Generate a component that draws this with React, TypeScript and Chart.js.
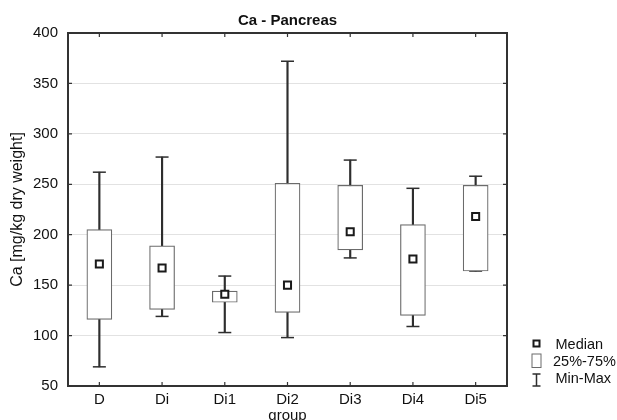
import React, { useEffect, useRef } from "react";
import { Chart, registerables } from "chart.js";

Chart.register(...registerables);

const groups = ["D", "Di", "Di1", "Di2", "Di3", "Di4", "Di5"];
const minValues = [69, 119, 103, 98, 177, 109, 164];
const q1Values = [116, 126, 133, 123, 185, 120, 164];
const medianValues = [171, 167, 141, 150, 203, 176, 218];
const q3Values = [205, 189, 144, 251, 249, 210, 249];
const maxValues = [262, 277, 159, 372, 274, 246, 258];
const yMin = 50;
const yMax = 400;
const yStep = 50;

const FONT = '"Liberation Sans", Arial, sans-serif';
const TEXT = "#111111";
const DARK = "#2e2e2e";
const BOXLINE = "#6b6b6b";

const framePlugin = {
  id: "frame",
  afterDatasetsDraw(chart: any) {
    const { ctx, chartArea, scales } = chart;
    const { left, right, top, bottom } = chartArea;
    ctx.save();
    ctx.strokeStyle = "#333333";
    ctx.lineWidth = 2;
    ctx.strokeRect(left, top, right - left, bottom - top);
    ctx.lineWidth = 1.2;
    const tl = 4;
    scales.y.ticks.forEach((t: any) => {
      const y = scales.y.getPixelForValue(t.value);
      ctx.beginPath();
      ctx.moveTo(left, y);
      ctx.lineTo(left + tl, y);
      ctx.moveTo(right, y);
      ctx.lineTo(right - tl, y);
      ctx.stroke();
    });
    groups.forEach((_, i) => {
      const x = scales.x.getPixelForValue(i);
      ctx.beginPath();
      ctx.moveTo(x, top);
      ctx.lineTo(x, top + tl);
      ctx.moveTo(x, bottom);
      ctx.lineTo(x, bottom - tl);
      ctx.stroke();
    });
    ctx.restore();
  },
};

const legendPlugin = {
  id: "boxLegend",
  afterDraw(chart: any) {
    const { ctx, chartArea } = chart;
    const bx = chartArea.right + 29.5;
    const tx = chartArea.right + 48.5;
    const base = chartArea.bottom;
    ctx.save();
    ctx.font = `14.5px ${FONT}`;
    ctx.textBaseline = "middle";
    ctx.textAlign = "left";
    // Median
    ctx.fillStyle = "#ffffff";
    ctx.fillRect(bx - 3, base - 45.5, 6, 6);
    ctx.strokeStyle = "#1a1a1a";
    ctx.lineWidth = 2;
    ctx.strokeRect(bx - 3, base - 45.5, 6, 6);
    ctx.fillStyle = TEXT;
    ctx.fillText("Median", tx, base - 41);
    // Box
    ctx.strokeStyle = BOXLINE;
    ctx.lineWidth = 1;
    ctx.strokeRect(bx - 4.5, base - 32, 9, 13.5);
    ctx.fillText("25%-75%", tx - 2.5, base - 24.5);
    // Min-Max
    ctx.strokeStyle = DARK;
    ctx.lineWidth = 1.5;
    ctx.beginPath();
    ctx.moveTo(bx, base - 12);
    ctx.lineTo(bx, base);
    ctx.moveTo(bx - 4, base - 12);
    ctx.lineTo(bx + 4, base - 12);
    ctx.moveTo(bx - 4, base);
    ctx.lineTo(bx + 4, base);
    ctx.stroke();
    ctx.fillText("Min-Max", tx, base - 7);
    ctx.restore();
  },
};

export default function App() {
  const ref = useRef<HTMLCanvasElement | null>(null);
  useEffect(() => {
    if (!ref.current) return;
    const chart = new Chart(ref.current, {
      type: "bar",
      data: {
        labels: groups,
        datasets: [
          {
            type: "line",
            label: "Median",
            data: medianValues,
            showLine: false,
            pointStyle: "rect",
            pointRadius: 5,
            pointBorderWidth: 2,
            pointBackgroundColor: "#ffffff",
            pointBorderColor: "#1a1a1a",
            order: 0,
          } as any,
          {
            type: "bar",
            label: "25%-75%",
            data: groups.map((_, i) => [q1Values[i], q3Values[i]]),
            backgroundColor: "#ffffff",
            borderColor: BOXLINE,
            borderWidth: 1.2,
            borderSkipped: false,
            barThickness: 25,
            grouped: false,
            order: 1,
          } as any,
          {
            type: "line",
            label: "Max",
            data: maxValues,
            showLine: false,
            pointStyle: "line",
            pointRadius: 6.5,
            pointBorderWidth: 1.5,
            pointBorderColor: DARK,
            order: 2,
          } as any,
          {
            type: "line",
            label: "Min",
            data: minValues,
            showLine: false,
            pointStyle: "line",
            pointRadius: 6.5,
            pointBorderWidth: 1.5,
            pointBorderColor: DARK,
            order: 2,
          } as any,
          {
            type: "bar",
            label: "Min-Max",
            data: groups.map((_, i) => [minValues[i], maxValues[i]]),
            backgroundColor: DARK,
            barThickness: 1.5,
            grouped: false,
            order: 3,
          } as any,
        ],
      },
      options: {
        responsive: false,
        animation: false,
        devicePixelRatio: 1,
        layout: { padding: { left: 0, right: 110, top: 0, bottom: 0 } },
        plugins: {
          legend: { display: false },
          tooltip: { enabled: false },
          title: {
            display: true,
            text: "Ca - Pancreas",
            fullSize: false,
            color: TEXT,
            font: { family: FONT, size: 15, weight: "bold" },
            padding: { top: 12, bottom: 3 },
          },
        },
        scales: {
          x: {
            offset: true,
            grid: { display: false, drawTicks: false },
            border: { display: false },
            ticks: {
              color: TEXT,
              font: { family: FONT, size: 15 },
              padding: 5,
              maxRotation: 0,
              autoSkip: false,
            },
            title: {
              display: true,
              text: "group",
              color: TEXT,
              font: { family: FONT, size: 15, lineHeight: 0.6 },
              padding: 0,
            },
            afterFit: (s: any) => {
              s.height = 34;
            },
          },
          y: {
            min: yMin,
            max: yMax,
            grid: { color: "#e2e2e2", lineWidth: 1, drawTicks: false },
            border: { display: false },
            ticks: {
              stepSize: yStep,
              padding: 10,
              color: TEXT,
              font: { family: FONT, size: 15 },
            },
            title: {
              display: true,
              text: "Ca [mg/kg dry weight]",
              color: TEXT,
              font: { family: FONT, size: 16 },
              padding: { top: 8, bottom: 0 },
            },
            afterFit: (s: any) => {
              s.width = 68;
            },
          },
        },
      } as any,
      plugins: [framePlugin, legendPlugin],
    });
    return () => chart.destroy();
  }, []);
  return (
    <div style={{ position: "absolute", left: 0, top: 0, width: 617, height: 420, background: "#ffffff" }}>
      <canvas ref={ref} width={617} height={420} style={{ display: "block" }} />
    </div>
  );
}
